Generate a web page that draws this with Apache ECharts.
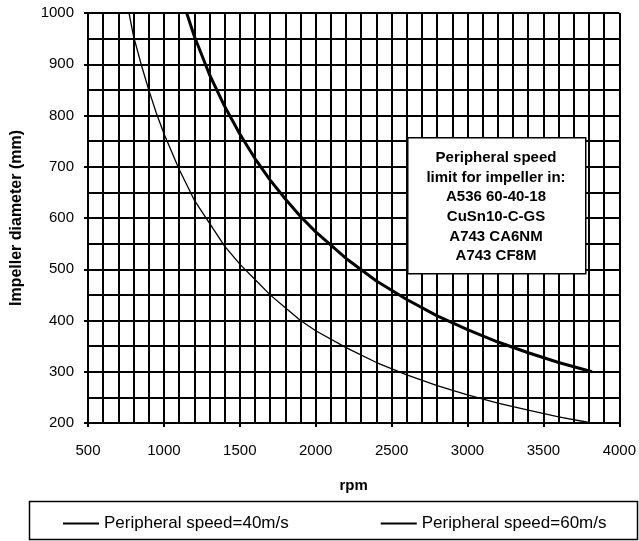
<!DOCTYPE html>
<html>
<head>
<meta charset="utf-8">
<script src="https://cdn.jsdelivr.net/npm/echarts@6/dist/echarts.min.js"></script>
<style>
  html, body { margin: 0; padding: 0; background: #fff; }
  #chart { width: 639px; height: 541px; }
</style>
</head>
<body>
<div id="chart"></div>
<script>
// rpm / diameter pairs
const rpm40 = [770, 800, 850, 900, 950, 1000, 1100, 1200, 1300, 1400, 1500, 1600, 1700, 1800, 1900, 2000, 2200, 2400, 2600, 2800, 3000, 3200, 3400, 3600, 3800];
const dia40 = [1000, 955, 900, 850, 805, 765, 695, 635, 590, 545, 510, 480, 450, 425, 400, 380, 347, 318, 294, 273, 255, 239, 225, 212, 201];
const rpm60 = [1150, 1200, 1300, 1400, 1500, 1600, 1700, 1800, 1900, 2000, 2200, 2400, 2600, 2800, 3000, 3200, 3400, 3600, 3820];
const dia60 = [1000, 955, 880, 818, 764, 716, 674, 637, 603, 573, 521, 477, 441, 409, 382, 358, 337, 318, 300];
const noteLines = ['Peripheral speed', 'limit for impeller in:', 'A536 60-40-18', 'CuSn10-C-GS', 'A743 CA6NM', 'A743 CF8M'];

const pair = (xs, ys) => xs.map((x, i) => [x, ys[i]]);
const font = 'Liberation Sans, Arial, sans-serif';

const chart = echarts.init(document.getElementById('chart'));
chart.setOption({
  animation: false,
  grid: { left: 88, right: 19, top: 13, bottom: 118 },
  xAxis: {
    type: 'value', min: 500, max: 4000, interval: 500,
    name: 'rpm', nameLocation: 'middle', nameGap: 55,
    nameTextStyle: { fontFamily: font, fontWeight: 'bold', fontSize: 15, color: '#000' },
    axisLine: { show: true, lineStyle: { color: '#000', width: 2 } },
    axisTick: { show: true, length: 4, lineStyle: { color: '#000', width: 2 } },
    axisLabel: { fontFamily: font, fontSize: 15, color: '#000', margin: 20, formatter: v => String(v) },
    splitLine: { show: true, lineStyle: { color: '#000', width: 2 } },
    minorTick: { show: true, splitNumber: 5, length: 0 },
    minorSplitLine: { show: true, lineStyle: { color: '#000', width: 2 } }
  },
  yAxis: {
    type: 'value', min: 200, max: 1000, interval: 100,
    name: 'Impeller diameter (mm)', nameLocation: 'middle', nameGap: 63,
    nameTextStyle: { fontFamily: font, fontWeight: 'bold', fontSize: 16, color: '#000' },
    axisLine: { show: true, lineStyle: { color: '#000', width: 2 } },
    axisTick: { show: true, length: 4, lineStyle: { color: '#000', width: 2 } },
    axisLabel: { fontFamily: font, fontSize: 15, color: '#000', margin: 14, formatter: v => String(v) },
    splitLine: { show: true, lineStyle: { color: '#000', width: 2 } },
    minorTick: { show: true, splitNumber: 2, length: 0 },
    minorSplitLine: { show: true, lineStyle: { color: '#000', width: 2 } }
  },
  legend: {
    left: 58, top: 510,
    itemWidth: 36, itemHeight: 2, itemGap: 92,
    icon: 'rect',
    textStyle: { fontFamily: font, fontSize: 17, color: '#000' },
    data: ['Peripheral speed=40m/s', 'Peripheral speed=60m/s']
  },
  series: [
    {
      name: 'Peripheral speed=40m/s', type: 'line', data: pair(rpm40, dia40),
      symbol: 'none', itemStyle: { color: '#000' },
      lineStyle: { color: '#000', width: 1.3 }, z: 5
    },
    {
      name: 'Peripheral speed=60m/s', type: 'line', data: pair(rpm60, dia60),
      symbol: 'none', itemStyle: { color: '#000' },
      lineStyle: { color: '#000', width: 3 }, z: 5
    }
  ],
  graphic: [
    {
      type: 'rect', left: 27, top: 499, z: 10,
      shape: { width: 608, height: 38 },
      style: { fill: 'none', stroke: '#000', lineWidth: 1.5 }
    },
    {
      type: 'rect', left: 407, top: 137, z: 10,
      shape: { width: 178, height: 136 },
      style: { fill: '#fff', stroke: '#000', lineWidth: 1.5 }
    },
    {
      type: 'text', x: 496, y: 148, z: 11,
      style: {
        text: noteLines.join('\n'), align: 'center', verticalAlign: 'top',
        font: 'bold 15px ' + font, fill: '#000', lineHeight: 19.7
      }
    }
  ]
});
</script>
</body>
</html>
